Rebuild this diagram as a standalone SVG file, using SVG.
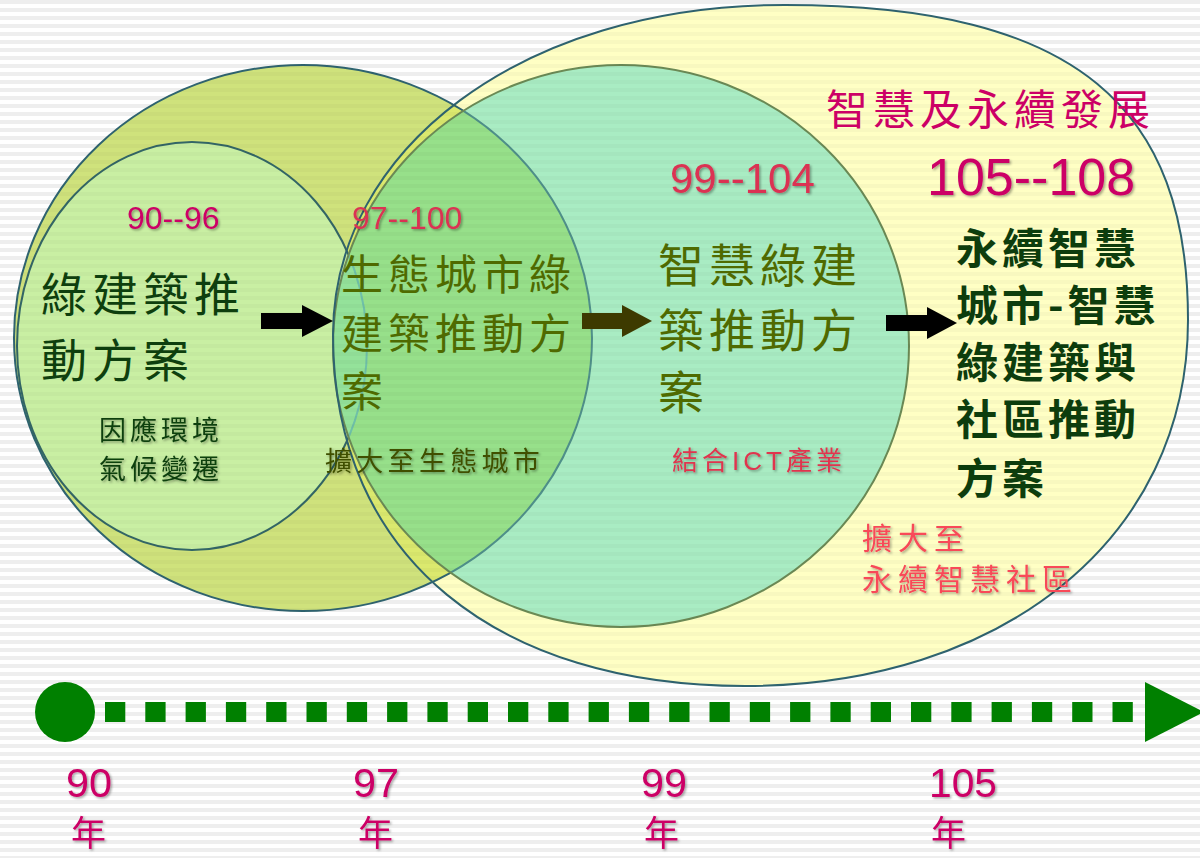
<svg xmlns="http://www.w3.org/2000/svg" xmlns:xlink="http://www.w3.org/1999/xlink" width="1200" height="858" viewBox="0 0 1200 858">
<style>
.cjk{font-family:'Noto Sans CJK TC','Noto Sans CJK SC',sans-serif;}
.lat{font-family:'Liberation Sans',Arial,'Noto Sans CJK TC',sans-serif;}
.mag{fill:#cc0066;}
.crim{fill:#db3352;}
.dk{fill:#0e3f0e;}
.ol{fill:#4f6a00;}
.sh{filter:url(#sh);}
.edge{fill:none;stroke:#2f6470;stroke-width:2;}
.yr{font-family:'Noto Sans CJK TC','Noto Sans CJK SC',sans-serif;font-size:35px;}
</style>
<defs>
<pattern id="stripes" width="8" height="8" patternUnits="userSpaceOnUse">
<rect x="0" y="0" width="8" height="4" fill="#000" fill-opacity="0.045"/>
</pattern>
<filter id="sh" x="-10%" y="-20%" width="130%" height="150%">
<feDropShadow dx="1.5" dy="1.5" stdDeviation="1" flood-color="#000" flood-opacity="0.35"/>
</filter>
<ellipse id="olive" cx="303" cy="338" rx="289" ry="273"/>
<ellipse id="lg" cx="192" cy="346" rx="175" ry="204"/>
<path id="yel" d="M 333,335 C 333,150 520,5 785,5 C 1080,5 1188,110 1188,320 C 1188,540 1000,686 745,686 C 500,686 333,560 333,335 Z"/>
<ellipse id="teal" cx="621" cy="346" rx="288" ry="281"/>
<clipPath id="cT"><use xlink:href="#teal"/></clipPath>
<clipPath id="cY"><use xlink:href="#yel"/></clipPath>
</defs>
<rect width="1200" height="858" fill="#fff"/>
<rect width="1200" height="858" fill="url(#stripes)"/>

<g id="circles">
<g id="circle-105-108"><use xlink:href="#yel" fill="#ffffc4"/></g>
<g id="circle-97-100">
<use xlink:href="#olive" fill="#cfe27c"/>
<use xlink:href="#olive" fill="#dbe96e" clip-path="url(#cY)"/>
<use xlink:href="#olive" class="edge" stroke="#336666"/>
</g>
<g id="circle-90-96"><use xlink:href="#lg" fill="#c9efa3"/><use xlink:href="#lg" class="edge" style="stroke:#336666"/></g>
<g id="circle-99-104">
<use xlink:href="#teal" fill="#a9ecc3"/>
<g clip-path="url(#cT)">
<use xlink:href="#olive" fill="#97e08a"/>
<use xlink:href="#lg" fill="#94e29a"/>
<use xlink:href="#olive" fill="none" stroke="#4f908a" stroke-width="2"/>
<use xlink:href="#lg" fill="none" stroke="#6fc0a8" stroke-width="2"/>
</g>
<use xlink:href="#teal" fill="none" stroke="#6b8a55" stroke-width="2"/>
</g>
<use xlink:href="#yel" class="edge"/>
</g>
<rect width="1200" height="858" fill="url(#stripes)" opacity="0.6"/>

<g id="connectors">
<polygon points="261,313 302,313 302,305 333,321 302,337 302,329 261,329" fill="#000"/>
<polygon points="582,313 622,313 622,305 652,321 622,337 622,329 582,329" fill="#3d3a00"/>
<polygon points="886,315 927,315 927,307 957,323 927,339 927,331 886,331" fill="#000"/>
</g>

<g id="timeline">
<circle cx="65" cy="712" r="30" fill="#008000"/>
<line x1="105" y1="712" x2="1134" y2="712" stroke="#008000" stroke-width="20" stroke-dasharray="20.3 20"/>
<polygon points="1145,682 1204,712 1145,742" fill="#008000"/>
<g class="lat mag sh" font-size="41">
<text><tspan x="66" y="797" textLength="46" lengthAdjust="spacingAndGlyphs">90</tspan><tspan class="yr" x="71" y="846">年</tspan></text>
<text><tspan x="353" y="797" textLength="46" lengthAdjust="spacingAndGlyphs">97</tspan><tspan class="yr" x="358" y="846">年</tspan></text>
<text><tspan x="641" y="797" textLength="46" lengthAdjust="spacingAndGlyphs">99</tspan><tspan class="yr" x="644" y="846">年</tspan></text>
<text><tspan x="929" y="797" textLength="68" lengthAdjust="spacingAndGlyphs">105</tspan><tspan class="yr" x="931" y="846">年</tspan></text>
</g>
</g>

<g id="node-title">
<text class="cjk mag" x="826" y="125" font-size="42" letter-spacing="5">智慧及永續發展</text>
</g>

<g id="node-90-96">
<text class="lat mag sh" x="127" y="229" font-size="32">90--96</text>
<text class="cjk dk" font-size="46" letter-spacing="5"><tspan x="41" y="311">綠建築推</tspan><tspan x="41" y="377">動方案</tspan></text>
<text class="cjk dk sh" font-size="27" letter-spacing="4"><tspan x="99" y="440">因應環境</tspan><tspan x="99" y="479">氣候變遷</tspan></text>
</g>

<g id="node-97-100">
<text class="lat crim sh" x="352" y="229" font-size="32">97--100</text>
<text class="cjk ol" font-size="42" letter-spacing="5"><tspan x="341" y="290">生態城市綠</tspan><tspan x="341" y="349">建築推動方</tspan><tspan x="341" y="407">案</tspan></text>
<text class="cjk sh" x="325" y="471" font-size="27" letter-spacing="4.3" fill="#3f5000">擴大至生態城市</text>
</g>

<g id="node-99-104">
<text class="lat crim sh" x="670" y="193" font-size="42">99--104</text>
<text class="cjk ol" font-size="46" letter-spacing="5"><tspan x="658" y="282">智慧綠建</tspan><tspan x="658" y="347">築推動方</tspan><tspan x="658" y="409">案</tspan></text>
<text class="lat sh" x="672" y="470" font-size="26" letter-spacing="4" fill="#e0344e">結合ICT產業</text>
</g>

<g id="node-105-108">
<text class="lat mag sh" x="927" y="195" font-size="52">105--108</text>
<text class="cjk" font-size="42" font-weight="700" letter-spacing="4" fill="#0d3d0d"><tspan x="956" y="264">永續智慧</tspan><tspan x="956" y="321">城市-智慧</tspan><tspan x="956" y="378">綠建築與</tspan><tspan x="956" y="435">社區推動</tspan><tspan x="956" y="494">方案</tspan></text>
<text class="cjk sh" font-size="30" letter-spacing="6" fill="#f84858"><tspan x="862" y="549">擴大至</tspan><tspan x="862" y="590">永續智慧社區</tspan></text>
</g>
</svg>
